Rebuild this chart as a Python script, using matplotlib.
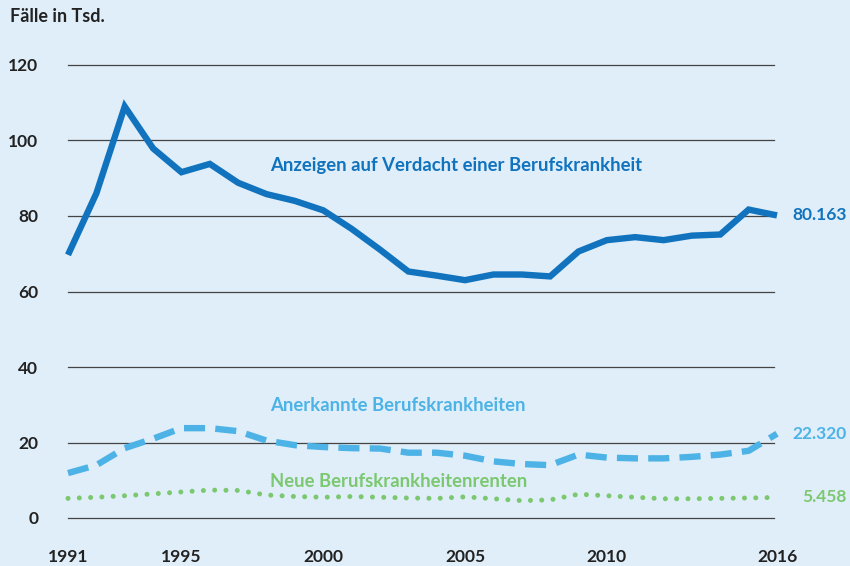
import numpy as np
import matplotlib.pyplot as plt

plt.rcParams['font.family'] = ['Lato', 'DejaVu Sans']

# Daten (Fälle in Tausend)
jahre = np.arange(1991, 2017)
anzeigen = [69.7, 86.0, 109.0, 97.9, 91.6, 93.8, 88.8, 85.8, 84.0, 81.5,
            76.6, 71.1, 65.3, 64.2, 63.0, 64.5, 64.5, 64.0, 70.6, 73.6,
            74.4, 73.6, 74.8, 75.1, 81.7, 80.163]
anerkannt = [11.9, 14.0, 18.5, 21.0, 23.8, 23.8, 23.0, 20.5, 19.3, 18.8,
             18.5, 18.4, 17.3, 17.3, 16.5, 15.0, 14.3, 14.0, 16.8, 16.0,
             15.8, 15.8, 16.2, 16.8, 17.8, 22.320]
renten = [5.2, 5.5, 5.9, 6.4, 6.9, 7.4, 7.3, 6.1, 5.7, 5.5,
          5.7, 5.5, 5.3, 5.2, 5.6, 5.1, 4.6, 4.8, 6.3, 5.9,
          5.5, 5.1, 5.1, 5.2, 5.3, 5.458]
yticks = [0, 20, 40, 60, 80, 100, 120]
xticks = [1991, 1995, 2000, 2005, 2010, 2016]

bg = '#dfeef9'
c_anz = '#1173be'
c_ane = '#4db3e6'
c_ren = '#7cc870'

fig = plt.figure(figsize=(8.5, 5.66), dpi=100, facecolor=bg)
ax = fig.add_axes([68/850, 48/566, 709/850, 453/566])
ax.set_facecolor(bg)
ax.set_xlim(1991, 2016)
ax.set_ylim(0, 120)

for y in yticks:
    ax.plot([1991, 2015.9], [y, y], color='#444444', lw=0.9, zorder=1, clip_on=False)

ax.plot(jahre, anzeigen, color=c_anz, lw=4.6, solid_joinstyle='miter',
        solid_capstyle='butt', zorder=3, clip_on=False)
ax.plot(jahre, anerkannt, color=c_ane, lw=4.6, linestyle=(0, (3.3, 1.6)),
        dash_capstyle='butt', zorder=3, clip_on=False)
ax.plot(jahre, renten, color=c_ren, lw=3.6, linestyle=(0, (0.01, 2.25)),
        dash_capstyle='round', zorder=3, clip_on=False)

for s in ax.spines.values():
    s.set_visible(False)
ax.tick_params(length=0)
ax.set_yticks(yticks)
ax.set_yticklabels([str(v) for v in yticks], fontsize=12.5, fontweight='bold', color='#222222')
ax.tick_params(axis='y', pad=21.5)
ax.set_xticks(xticks)
ax.set_xticklabels([str(v) for v in xticks], fontsize=12.5, fontweight='bold', color='#222222')
ax.tick_params(axis='x', pad=22)

fig.text(10/850, 1 - 17/566, 'Fälle in Tsd.', fontsize=13, fontweight='bold',
         color='#222222', va='center', ha='left')

ax.text(1998.12, 93.3, 'Anzeigen auf Verdacht einer Berufskrankheit', color=c_anz,
        fontsize=13.3, fontweight='bold', va='center', ha='left')
ax.text(1998.12, 29.9, 'Anerkannte Berufskrankheiten', color=c_ane,
        fontsize=13.3, fontweight='bold', va='center', ha='left')
ax.text(1998.12, 9.8, 'Neue Berufskrankheitenrenten', color=c_ren,
        fontsize=13.3, fontweight='bold', va='center', ha='left')

ax.text(2018.45, anzeigen[-1], '80.163', color=c_anz, fontsize=12.5,
        fontweight='bold', va='center', ha='right', clip_on=False)
ax.text(2018.45, anerkannt[-1], '22.320', color=c_ane, fontsize=12.5,
        fontweight='bold', va='center', ha='right', clip_on=False)
ax.text(2018.45, renten[-1], '5.458', color=c_ren, fontsize=12.5,
        fontweight='bold', va='center', ha='right', clip_on=False)

fig.savefig('out.png', dpi=100, facecolor=bg)
